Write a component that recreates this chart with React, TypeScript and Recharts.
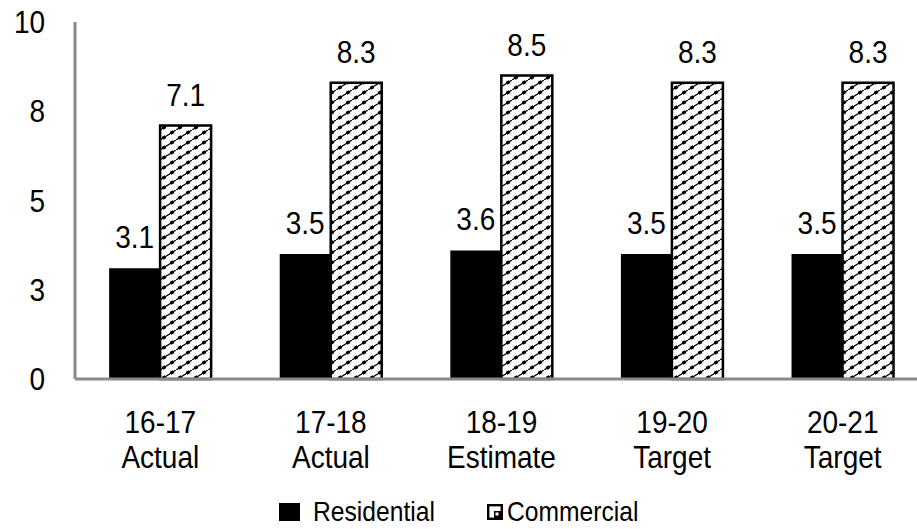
import React from "react";
import { Bar, BarChart, LabelList, Legend, XAxis, YAxis } from "recharts";

const years = ["16-17", "17-18", "18-19", "19-20", "20-21"];
const periods = ["Actual", "Actual", "Estimate", "Target", "Target"];
const residential = [3.1, 3.5, 3.6, 3.5, 3.5];
const commercial = [7.1, 8.3, 8.5, 8.3, 8.3];
const yTicks = [0, 2.5, 5, 7.5, 10];

const data = years.map((y, i) => ({
  name: y,
  period: periods[i],
  residential: residential[i],
  commercial: commercial[i],
}));

const FONT = "'Liberation Sans', Arial, sans-serif";
const AXIS_COLOR = "#898989";
// the source text is a bit narrower/taller than plain Arial
const SX = 0.875;

const XTick = (props: any) => {
  const { x, y, payload, index } = props;
  return (
    <g transform={`translate(${x},${y}) scale(${SX},1)`}>
      <text x={0} y={0} textAnchor="middle" fontSize={32} fill="#000" fontFamily={FONT}>
        <tspan x={0} dy={46}>{payload.value}</tspan>
        <tspan x={0} dy={35}>{periods[index]}</tspan>
      </text>
    </g>
  );
};

const YTick = (props: any) => {
  const { y, payload } = props;
  return (
    <g transform={`translate(45,${y}) scale(${SX},1)`}>
      <text x={0} y={11} textAnchor="end" fontSize={32} fill="#000" fontFamily={FONT}>
        {Math.round(payload.value)}
      </text>
    </g>
  );
};

const ValueLabel = (props: any) => {
  const { x, y, width, value } = props;
  return (
    <g transform={`translate(${x + width / 2},${y - 20}) scale(${SX},1)`}>
      <text x={0} y={0} textAnchor="middle" fontSize={32} fill="#000" fontFamily={FONT}>
        {value.toFixed(1)}
      </text>
    </g>
  );
};

const LegendBox = () => (
  <div
    style={{
      display: "flex",
      alignItems: "center",
      height: 50,
      boxSizing: "border-box",
      paddingTop: 16,
      paddingLeft: 279,
      fontFamily: FONT,
      fontSize: 28,
      color: "#000",
    }}
  >
    <svg width={21} height={20} style={{ marginRight: 13 }}>
      <rect x={0} y={1} width={21} height={18} fill="#000" />
    </svg>
    <span style={{ width: 174, whiteSpace: "nowrap", display: "inline-block" }}>
      <span style={{ display: "inline-block", transform: "scaleX(0.88)", transformOrigin: "left" }}>Residential</span>
    </span>
    <svg width={16} height={20} style={{ marginRight: 4 }}>
      <rect x={1.2} y={3.2} width={13.6} height={13.6} fill="#fff" stroke="#000" strokeWidth={2.4} />
      <rect x={7} y={9} width={7} height={7} fill="#000" />
      <rect x={8.5} y={10.5} width={3} height={3} fill="#fff" />
    </svg>
    <span style={{ display: "inline-block", whiteSpace: "nowrap", transform: "scaleX(0.88)", transformOrigin: "left" }}>Commercial</span>
  </div>
);

export default function App() {
  return (
    <div style={{ position: "absolute", left: 0, top: 0, width: 917, height: 529, overflow: "hidden", background: "#fff" }}>
      <BarChart
        width={930}
        height={529}
        data={data}
        margin={{ top: 22, right: 2, bottom: 0, left: 0 }}
        barCategoryGap="20%"
        barGap={0}
      >
        <defs>
          <pattern id="hatch" width={16} height={10} patternUnits="userSpaceOnUse">
            <rect width={16} height={10} fill="#fff" />
            <line x1={-2} y1={11.25} x2={18} y2={-1.25} stroke="#000" strokeWidth={1.2} />
            <line x1={2.5} y1={8.4} x2={5.5} y2={6.6} stroke="#000" strokeWidth={3.4} />
            <line x1={10.5} y1={3.4} x2={13.5} y2={1.6} stroke="#000" strokeWidth={3.4} />
          </pattern>
        </defs>
        <XAxis
          dataKey="name"
          tickLine={false}
          axisLine={{ stroke: AXIS_COLOR, strokeWidth: 3 }}
          tick={<XTick />}
          height={100}
          interval={0}
        />
        <YAxis
          domain={[0, 10]}
          ticks={yTicks}
          width={75}
          tickLine={false}
          axisLine={{ stroke: AXIS_COLOR, strokeWidth: 3 }}
          tick={<YTick />}
        />
        <Legend verticalAlign="bottom" height={50} content={<LegendBox />} />
        <Bar dataKey="residential" name="Residential" fill="#000" isAnimationActive={false}>
          <LabelList dataKey="residential" content={<ValueLabel />} />
        </Bar>
        <Bar dataKey="commercial" name="Commercial" fill="url(#hatch)" stroke="#000" strokeWidth={2.5} isAnimationActive={false}>
          <LabelList dataKey="commercial" content={<ValueLabel />} />
        </Bar>
      </BarChart>
    </div>
  );
}
